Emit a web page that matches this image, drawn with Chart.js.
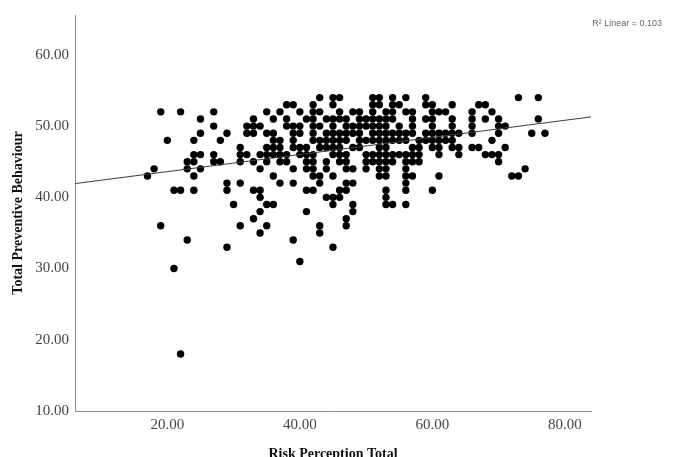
<!DOCTYPE html>
<html>
<head>
<meta charset="utf-8">
<script src="https://cdn.jsdelivr.net/npm/chart.js@4.4.1/dist/chart.umd.min.js"></script>
<style>
  html, body { margin: 0; padding: 0; background: #fff; }
  #wrap { position: relative; width: 673px; height: 457px; }
</style>
</head>
<body>
<div id="wrap"><canvas id="chart"></canvas></div>
<script>
// Scatter of Total Preventive Behaviour vs Risk Perception Total, with the
// linear fit. Scores are whole numbers, so the points are kept by row:
// yLevels[i] is a behaviour score and xAtLevel[i] the risk scores seen there.
const yLevels = [54, 53, 52, 51, 50, 49, 48, 47, 46, 45, 44, 43, 42, 41, 40, 39, 38, 37, 36, 35, 34, 33, 31, 30, 18]
const xAtLevel = [
  [43, 45, 46, 51, 52, 54, 56, 59, 73, 76],
  [38, 39, 42, 45, 51, 52, 54, 55, 59, 60, 63, 67, 68],
  [19, 22, 27, 35, 37, 40, 42, 43, 46, 48, 49, 51, 53, 54, 56, 57, 60, 61, 62, 66, 69],
  [25, 33, 36, 38, 41, 42, 44, 45, 46, 47, 49, 50, 51, 52, 53, 54, 57, 59, 60, 63, 66, 68, 70, 76],
  [27, 32, 33, 34, 38, 39, 40, 42, 43, 45, 47, 48, 49, 50, 51, 52, 53, 55, 57, 60, 63, 66, 70, 71],
  [25, 29, 32, 33, 35, 36, 39, 40, 42, 44, 45, 46, 47, 48, 49, 51, 52, 53, 54, 55, 56, 57, 59, 60, 61, 62, 63, 64, 66, 70, 75, 77],
  [20, 24, 28, 36, 37, 39, 42, 43, 44, 45, 46, 47, 49, 50, 51, 52, 53, 54, 55, 56, 58, 59, 60, 61, 62, 63, 69],
  [31, 35, 36, 37, 39, 40, 41, 43, 44, 45, 46, 48, 49, 52, 53, 57, 58, 60, 61, 63, 64, 66, 67, 71],
  [24, 25, 27, 31, 32, 34, 35, 36, 37, 38, 40, 41, 42, 45, 46, 47, 50, 51, 52, 53, 54, 55, 56, 57, 58, 61, 64, 68, 69, 70],
  [23, 24, 27, 28, 31, 33, 35, 37, 38, 41, 42, 44, 46, 47, 50, 51, 52, 53, 54, 56, 57, 58, 70],
  [18, 23, 25, 34, 39, 41, 42, 44, 47, 48, 50, 52, 53, 56, 74],
  [17, 24, 36, 42, 43, 45, 52, 53, 56, 57, 61, 72, 73],
  [29, 31, 37, 39, 43, 47, 48, 56],
  [21, 22, 24, 29, 33, 34, 41, 42, 46, 47, 53, 56, 60],
  [34, 44, 45, 46, 53],
  [30, 35, 36, 45, 48, 53, 54, 56],
  [34, 41, 48],
  [33, 47],
  [19, 31, 35, 43, 47],
  [34, 43],
  [23, 39],
  [29, 45],
  [40],
  [21],
  [22]
]

// Fit line end points, read where it meets the frame
const fitLineX = [6.06, 83.95]
const fitLineY = [41.93, 51.29]

const xTicks = [20, 40, 60, 80]
const yTicks = [10, 20, 30, 40, 50, 60]
const xTitle = "Risk Perception Total"
const yTitle = "Total Preventive Behaviour"
const fitLabel = "R\u00b2 Linear = 0.103"

const points = []
yLevels.forEach((y, i) => {
  xAtLevel[i].forEach((x) => points.push({ x, y }))
})
const fitLine = fitLineX.map((x, i) => ({ x, y: fitLineY[i] }))

const serif = "'Liberation Serif', 'Times New Roman', serif"

// SPSS puts the R² note in the top-right corner, outside the plot frame
const fitNote = {
  id: "fitNote",
  afterDraw(chart) {
    const ctx = chart.ctx
    ctx.save()
    ctx.font = "9px 'Liberation Sans', Arial, sans-serif"
    ctx.fillStyle = "#666"
    ctx.textAlign = "right"
    ctx.textBaseline = "middle"
    ctx.fillText(fitLabel, 662, 24)
    ctx.restore()
  }
}

new Chart(document.getElementById("chart"), {
  type: "scatter",
  data: {
    datasets: [
      {
        type: "line",
        data: fitLine,
        borderColor: "#3c3c3c",
        borderWidth: 1,
        pointRadius: 0,
        fill: false,
      },
      {
        data: points,
        backgroundColor: "#000",
        borderWidth: 0,
        pointRadius: 3.7,
        pointHoverRadius: 3.7,
      }
    ]
  },
  options: {
    responsive: true,
    maintainAspectRatio: false,
    animation: false,
    events: [],
    layout: { padding: { top: 15, right: 82, bottom: 0, left: 0 } },
    plugins: {
      legend: { display: false },
      tooltip: { enabled: false }
    },
    scales: {
      x: {
        type: "linear",
        min: 6.06,
        max: 83.95,
        afterBuildTicks: (s) => { s.ticks = xTicks.map((v) => ({ value: v })) },
        afterFit: (s) => { s.height = 46 },
        grid: { display: false, drawTicks: false },
        border: { display: true, color: "#8c8c8c", width: 1 },
        ticks: {
          color: "#444",
          padding: 5,
          maxRotation: 0,
          font: { family: serif, size: 15 },
          callback: (v) => Number(v).toFixed(2)
        },
        title: {
          display: true,
          text: xTitle,
          color: "#111",
          padding: { top: 0, bottom: -4 },
          font: { family: serif, size: 14, weight: "bold", lineHeight: 1 }
        }
      },
      y: {
        min: 10,
        max: 65.6,
        afterBuildTicks: (s) => { s.ticks = yTicks.map((v) => ({ value: v })) },
        afterFit: (s) => { s.width = 75 },
        grid: { display: false, drawTicks: false },
        border: { display: true, color: "#8c8c8c", width: 1 },
        ticks: {
          color: "#444",
          padding: 6,
          font: { family: serif, size: 15 },
          callback: (v) => Number(v).toFixed(2)
        },
        title: {
          display: true,
          text: yTitle,
          color: "#111",
          padding: { top: 11, bottom: 0 },
          font: { family: serif, size: 14, weight: "bold", lineHeight: 1 }
        }
      }
    }
  },
  plugins: [fitNote]
})
</script>
</body>
</html>
